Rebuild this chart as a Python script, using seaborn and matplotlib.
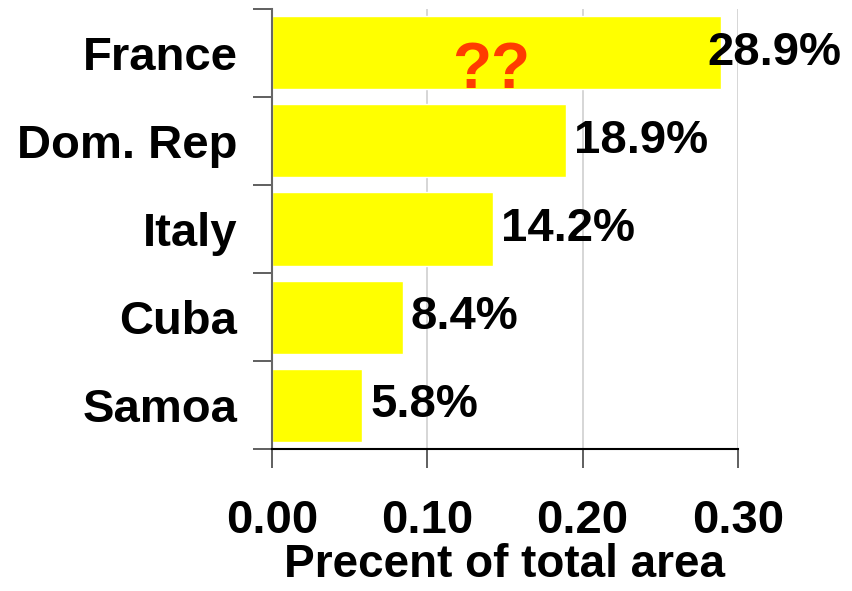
import pandas as pd
import seaborn as sns
import matplotlib.pyplot as plt

# Data
countries = ["France", "Dom. Rep", "Italy", "Cuba", "Samoa"]
share = [0.289, 0.189, 0.142, 0.084, 0.058]
x_ticks = [0.00, 0.10, 0.20, 0.30]

data = pd.DataFrame({"country": countries, "share": share})

sns.set_style("white")
plt.rcParams["font.family"] = ["Liberation Sans", "DejaVu Sans"]
plt.rcParams["font.weight"] = "bold"
plt.rcParams["text.color"] = "black"
plt.rcParams["axes.labelcolor"] = "black"
plt.rcParams["xtick.color"] = "#444444"
plt.rcParams["ytick.color"] = "#444444"
plt.rcParams["xtick.labelcolor"] = "black"
plt.rcParams["ytick.labelcolor"] = "black"

fs = 34

fig = plt.figure(figsize=(8.53, 5.91), dpi=100)
ax = fig.add_axes([0.319, 0.240, 0.546, 0.745])

sns.barplot(data=data, x="share", y="country", orient="h", color="#ffff00",
            saturation=1, width=0.83, ax=ax, zorder=2)

ax.set_xlim(0, 0.30)
ax.set_ylim(len(countries) - 0.5, -0.5)
ax.set_xticks(x_ticks)
ax.set_xticklabels([f"{t:.2f}" for t in x_ticks], fontsize=fs, fontweight="bold")
ax.tick_params(axis="x", bottom=True, length=14, width=1.2, pad=22)

# labels at category centres, tick marks at category boundaries
ax.tick_params(axis="y", which="major", left=False, length=0, pad=25, labelsize=fs)
ax.set_yticks([i - 0.5 for i in range(len(countries) + 1)], minor=True)
ax.tick_params(axis="y", which="minor", left=True, length=14, width=1.2)
for lab in ax.get_yticklabels():
    lab.set_fontweight("bold")

ax.xaxis.grid(True, color="#d0d0d0", linewidth=1.2, zorder=0)
ax.set_axisbelow(True)

sns.despine(ax=ax, top=True, right=True)
ax.spines["left"].set_color("#666666")
ax.spines["left"].set_linewidth(1.5)
ax.spines["bottom"].set_color("black")
ax.spines["bottom"].set_linewidth(1.5)

ax.set_xlabel("Precent of total area", fontsize=33, fontweight="bold", labelpad=0)
ax.set_ylabel("")

# value labels to the right of each bar, pulled back if they would run off
for i, v in enumerate(share):
    if v > 0.25:
        ax.annotate(f"{v*100:.1f}%", xy=(v, i), xytext=(-10, 0), textcoords="offset points",
                    ha="left", va="center", fontsize=fs, fontweight="bold",
                    annotation_clip=False, zorder=5)
    else:
        ax.annotate(f"{v*100:.1f}%", xy=(v, i), xytext=(6, 0), textcoords="offset points",
                    ha="left", va="center", fontsize=fs, fontweight="bold", zorder=5)

ax.text(0.141, 0.2, "??", color="#ff3c00", fontsize=46, fontweight="bold",
        ha="center", va="center", zorder=6)

fig.savefig("out.png", dpi=100)
